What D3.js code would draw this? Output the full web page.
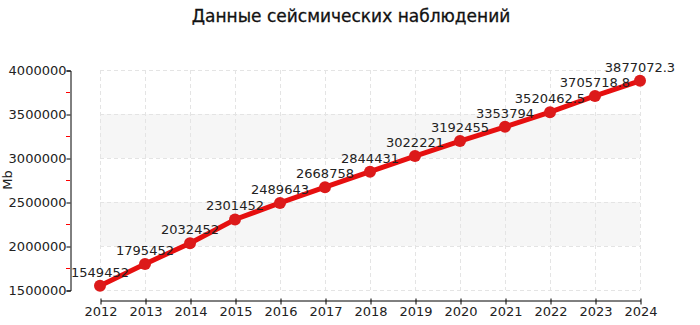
<!DOCTYPE html>
<html>
<head>
<meta charset="utf-8">
<script src="https://d3js.org/d3.v7.min.js"></script>
<style>
  body { margin: 0; background: #fff; }
  text { font-family: "DejaVu Sans", Verdana, sans-serif; }
</style>
</head>
<body>
<div id="chart"></div>
<script>
var years = [2012, 2013, 2014, 2015, 2016, 2017, 2018, 2019, 2020, 2021, 2022, 2023, 2024];
var values = [1549452, 1795452, 2032452, 2301452, 2489643, 2668758, 2844431, 3022221, 3192455, 3353794, 3520462.5, 3705718.8, 3877072.3];
var labels = ["1549452", "1795452", "2032452", "2301452", "2489643", "2668758", "2844431", "3022221", "3192455", "3353794", "3520462.5", "3705718.8", "3877072.3"];
var yTicks = [1500000, 2000000, 2500000, 3000000, 3500000, 4000000];
var yMinor = [1750000, 2250000, 2750000, 3250000, 3750000];
var bands = [[2000000, 2500000], [3000000, 3500000]];

var W = 700, H = 325;
var svg = d3.select("#chart").append("svg").attr("width", W).attr("height", H);

var x = d3.scaleLinear().domain([2012, 2024]).range([100, 640]);
var y = d3.scaleLinear().domain([1500000, 4000000]).range([290, 70]);

// title
svg.append("text").attr("x", 351).attr("y", 22).attr("text-anchor", "middle")
  .style("font-size", "17px").attr("fill", "#111")
  .attr("stroke", "#111").attr("stroke-width", 0.3)
  .text("Данные сейсмических наблюдений");

// bands
svg.selectAll(".band").data(bands).enter().append("rect")
  .attr("x", x(2012)).attr("width", x(2024) - x(2012))
  .attr("y", function(d) { return y(d[1]); })
  .attr("height", function(d) { return y(d[0]) - y(d[1]); })
  .attr("fill", "#f6f6f6");

// grid
svg.selectAll(".vg").data(years).enter().append("line")
  .attr("x1", function(d) { return x(d) + 0.5; }).attr("x2", function(d) { return x(d) + 0.5; })
  .attr("y1", y(4000000)).attr("y2", y(1500000))
  .attr("stroke", "#e4e4e4").attr("stroke-dasharray", "4,3");
svg.selectAll(".hg").data(yTicks).enter().append("line")
  .attr("x1", x(2012)).attr("x2", x(2024))
  .attr("y1", function(d) { return y(d) + 0.5; }).attr("y2", function(d) { return y(d) + 0.5; })
  .attr("stroke", "#e4e4e4").attr("stroke-dasharray", "4,3");

// y axis
var yAxis = svg.append("g").attr("transform", "translate(70.5,0.5)")
  .call(d3.axisLeft(y).tickValues(yTicks).tickSize(4).tickFormat(d3.format("d")));
yAxis.select(".domain").attr("stroke", "#000");
yAxis.selectAll("text").style("font-size", "13px").attr("fill", "#222").attr("x", -4);
svg.selectAll(".minor").data(yMinor).enter().append("line")
  .attr("x1", 66).attr("x2", 70)
  .attr("y1", function(d) { return Math.round(y(d)) + 0.5; })
  .attr("y2", function(d) { return Math.round(y(d)) + 0.5; })
  .attr("stroke", "#ff0000");

// x axis
var xAxis = svg.append("g").attr("transform", "translate(0.5,300.5)")
  .call(d3.axisBottom(x).tickValues(years).tickSize(4).tickSizeOuter(0).tickFormat(d3.format("d")));
xAxis.selectAll(".tick line").attr("y1", -2);
xAxis.selectAll("text").style("font-size", "13px").attr("fill", "#222").attr("y", 6);

svg.append("text").attr("transform", "translate(12,180) rotate(-90)")
  .attr("text-anchor", "middle").style("font-size", "13px").attr("fill", "#222").text("Mb");

// line
var line = d3.line().x(function(d, i) { return x(years[i]); }).y(function(d) { return y(d); });
svg.append("path").datum(values).attr("d", line)
  .attr("fill", "none").attr("stroke", "#e60f0f").attr("stroke-width", 5);

svg.selectAll(".pt").data(values).enter().append("circle")
  .attr("cx", function(d, i) { return x(years[i]); })
  .attr("cy", function(d) { return y(d); })
  .attr("r", 6).attr("fill", "#dc1a1a");

svg.selectAll(".lbl").data(values).enter().append("text")
  .attr("x", function(d, i) { return x(years[i]); })
  .attr("y", function(d) { return y(d) - 9; })
  .attr("text-anchor", "middle").style("font-size", "13px").attr("fill", "#222")
  .text(function(d, i) { return labels[i]; });
</script>
</body>
</html>
